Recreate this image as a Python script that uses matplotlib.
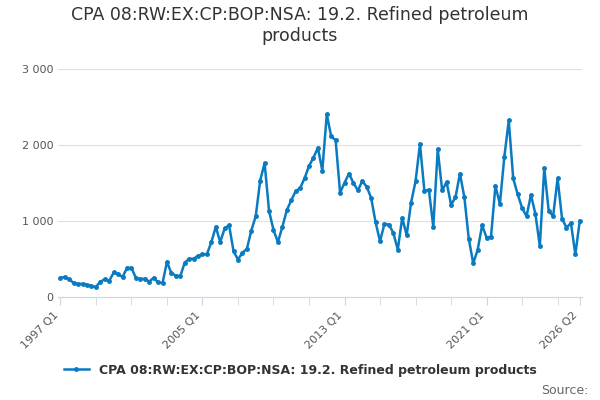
import numpy as np
import matplotlib.pyplot as plt

values = [250, 260, 230, 180, 170, 170, 160, 140, 130, 200, 230, 210,
          320, 300, 260, 380, 380, 250, 230, 240, 200, 250, 190, 180,
          460, 310, 280, 270, 450, 500, 500, 540, 560, 560, 720, 920,
          720, 900, 940, 600, 490, 580, 630, 870, 1060, 1530, 1760, 1130,
          880, 720, 920, 1140, 1270, 1390, 1430, 1560, 1720, 1830, 1960, 1660,
          2400, 2110, 2060, 1370, 1500, 1620, 1500, 1400, 1520, 1450, 1300, 980,
          730, 960, 950, 840, 620, 1040, 810, 1240, 1520, 2010, 1390, 1410,
          920, 1940, 1400, 1510, 1210, 1310, 1620, 1310, 760, 440, 620, 940,
          780, 790, 1460, 1220, 1840, 2320, 1560, 1350, 1170, 1060, 1340, 1090,
          670, 1690, 1130, 1060, 1560, 1030, 910, 970, 560, 1000]
tick_pos = [0, 32, 64, 96, 117]
tick_labels = ["1997 Q1", "2005 Q1", "2013 Q1", "2021 Q1", "2026 Q2"]
label = "CPA 08:RW:EX:CP:BOP:NSA: 19.2. Refined petroleum products"

color = "#0a7bc1"
fig = plt.figure(figsize=(6, 4), dpi=100)
ax = fig.add_axes([0.097, 0.258, 0.873, 0.57])
x = np.arange(len(values))
ax.plot(x, values, color=color, lw=1.8, marker="o", ms=2.5, label=label)

ax.set_xlim(-0.5, 117.5)
ax.set_ylim(0, 3000)
ax.set_yticks([0, 1000, 2000, 3000])
ax.set_yticklabels(["0", "1 000", "2 000", "3 000"], fontsize=8, color="#555555")
ax.yaxis.grid(True, color="#e0e0e0", lw=0.8)
ax.set_axisbelow(True)
ax.tick_params(axis="y", length=0)
ax.set_xticks(np.arange(0, 118, 8), minor=True)
ax.set_xticks(tick_pos)
ax.set_xticklabels(tick_labels, rotation=45, ha="right", fontsize=8, color="#555555")
ax.tick_params(axis="x", which="both", length=6, color="#ccd6eb")
for s in ["top", "right", "left"]:
    ax.spines[s].set_visible(False)
ax.spines["bottom"].set_color("#ccd6eb")

fig.suptitle("CPA 08:RW:EX:CP:BOP:NSA: 19.2. Refined petroleum\nproducts",
             fontsize=12.5, color="#333333", y=0.985)
fig.legend(loc="lower center", bbox_to_anchor=(0.5, 0.03), frameon=False,
           prop={"size": 9, "weight": "bold"}, labelcolor="#333333",
           handlelength=2)
fig.text(0.98, 0.015, "Source:", ha="right", fontsize=9, color="#666666")
fig.savefig("out.png", dpi=100)
